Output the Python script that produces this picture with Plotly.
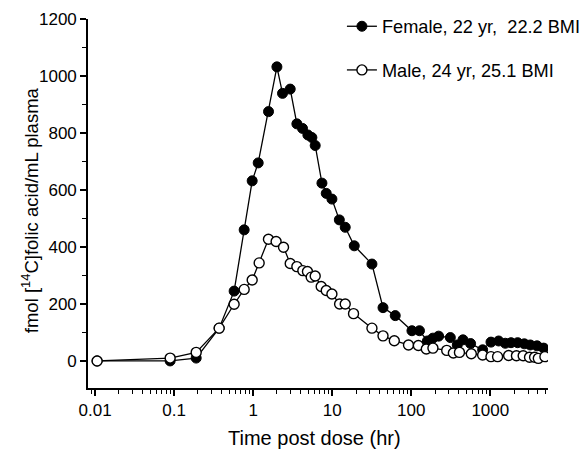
import plotly.graph_objects as go

# Time post dose (hr) and plasma [14C]folic acid (fmol/mL)
female_time = [0.0106, 0.089, 0.19, 0.371, 0.574, 0.769, 0.971, 1.157, 1.563, 1.995,
               2.35, 2.94, 3.57, 4.21, 4.92, 5.53, 6.09, 7.41, 8.40, 9.91,
               12.3, 14.6, 19.0, 31.8, 43.9, 62.7, 102, 127, 160, 188,
               222, 312, 382, 451, 563, 800, 1020, 1275, 1548, 1829,
               2218, 2694, 3207, 3900, 4730]
female_conc = [0, 0, 10, 115, 245, 460, 632, 695, 875, 1032,
               939, 954, 832, 816, 793, 784, 756, 624, 588, 568,
               495, 469, 404, 340, 187, 159, 106, 106, 70, 80,
               87, 82, 56, 74, 61, 39, 66, 70, 62, 64,
               64, 60, 56, 53, 45]

male_time = [0.0106, 0.089, 0.19, 0.371, 0.574, 0.769, 0.971, 1.19, 1.56, 1.95,
             2.42, 2.94, 3.57, 4.25, 4.86, 5.42, 6.09, 7.25, 8.40, 9.91,
             12.4, 14.6, 18.6, 31.8, 43.9, 61.0, 92.3, 123, 155, 188,
             281, 341, 407, 575, 800, 1020, 1236, 1705, 2142, 2605,
             3135, 3633, 4050, 4910]
male_conc = [0, 10, 30, 115, 199, 251, 284, 344, 427, 419,
             399, 342, 331, 317, 314, 294, 298, 261, 247, 235,
             200, 200, 166, 115, 88, 71, 56, 54, 42, 45,
             37, 28, 30, 25, 21, 15, 15, 19, 18, 18,
             13, 13, 9, 15]

female_name = "Female, 22 yr,\u00a0 22.2 BMI"
male_name = "Male, 24 yr, 25.1 BMI"

x_ticks = [0.01, 0.1, 1, 10, 100, 1000]
x_ticktext = ["0.01", "0.1", "1", "10", "100", "1000"]
x_minor = [d * 10 ** e for e in range(-3, 4) for d in range(2, 10)]

FONT = "Liberation Sans, Arial, Helvetica, sans-serif"

fig = go.Figure()

fig.add_trace(go.Scatter(
  x=female_time, y=female_conc, name=female_name, legendgroup="f",
  mode="lines+markers",
  line=dict(color="black", width=1.3),
  marker=dict(symbol="circle", size=10, color="black",
              line=dict(color="black", width=1)),
))

fig.add_trace(go.Scatter(
  x=male_time, y=male_conc, name=male_name, legendgroup="m",
  mode="lines+markers",
  line=dict(color="black", width=1.3),
  marker=dict(symbol="circle", size=10, color="white",
              line=dict(color="black", width=1.4)),
))

fig.update_xaxes(
  type="log",
  range=[-2.09, 3.73],
  automargin=False,
  showgrid=False, zeroline=False,
  showline=True, linecolor="black", linewidth=1.6,
  ticks="outside", ticklen=6, tickwidth=1.5, tickcolor="black",
  tickvals=x_ticks, ticktext=x_ticktext,
  minor=dict(tickvals=x_minor, ticks="outside", ticklen=4,
             tickwidth=1.3, tickcolor="black", showgrid=False),
  tickfont=dict(family=FONT, size=17, color="black"),
)

fig.update_yaxes(
  range=[-95, 1200],
  automargin=False,
  showgrid=False, zeroline=False,
  showline=True, linecolor="black", linewidth=1.6,
  ticks="outside", ticklen=6, tickwidth=1.5, tickcolor="black",
  tick0=0, dtick=200,
  minor=dict(dtick=100, tick0=0, ticks="outside", ticklen=4,
             tickwidth=1.3, tickcolor="black", showgrid=False),
  tickfont=dict(family=FONT, size=17, color="black"),
)

# axis titles as annotations so they sit exactly where the reference has them
fig.add_annotation(
  text="Time post dose (hr)",
  xref="paper", yref="paper", x=0.492, y=-0.1355,
  xanchor="center", yanchor="middle", showarrow=False,
  font=dict(family=FONT, size=20, color="black"),
)
fig.add_annotation(
  text="fmol [<sup>14</sup>C]folic acid/mL plasma",
  xref="paper", yref="paper", x=-0.126, y=0.482,
  xanchor="center", yanchor="middle", textangle=-90, showarrow=False,
  font=dict(family=FONT, size=18.5, color="black"),
)

# the page adds an 8px body margin, so the plot area is shifted by that here
fig.update_layout(
  width=587, height=450,
  margin=dict(l=80, r=47, t=11, b=70, autoexpand=False),
  plot_bgcolor="white", paper_bgcolor="white",
  font=dict(family=FONT, color="black"),
  legend=dict(
    x=0.552, y=1.03, xanchor="left", yanchor="top",
    bgcolor="rgba(0,0,0,0)", borderwidth=0,
    font=dict(family=FONT, size=18.2, color="black"),
    tracegroupgap=17,
  ),
)

fig.write_html("out.html")
